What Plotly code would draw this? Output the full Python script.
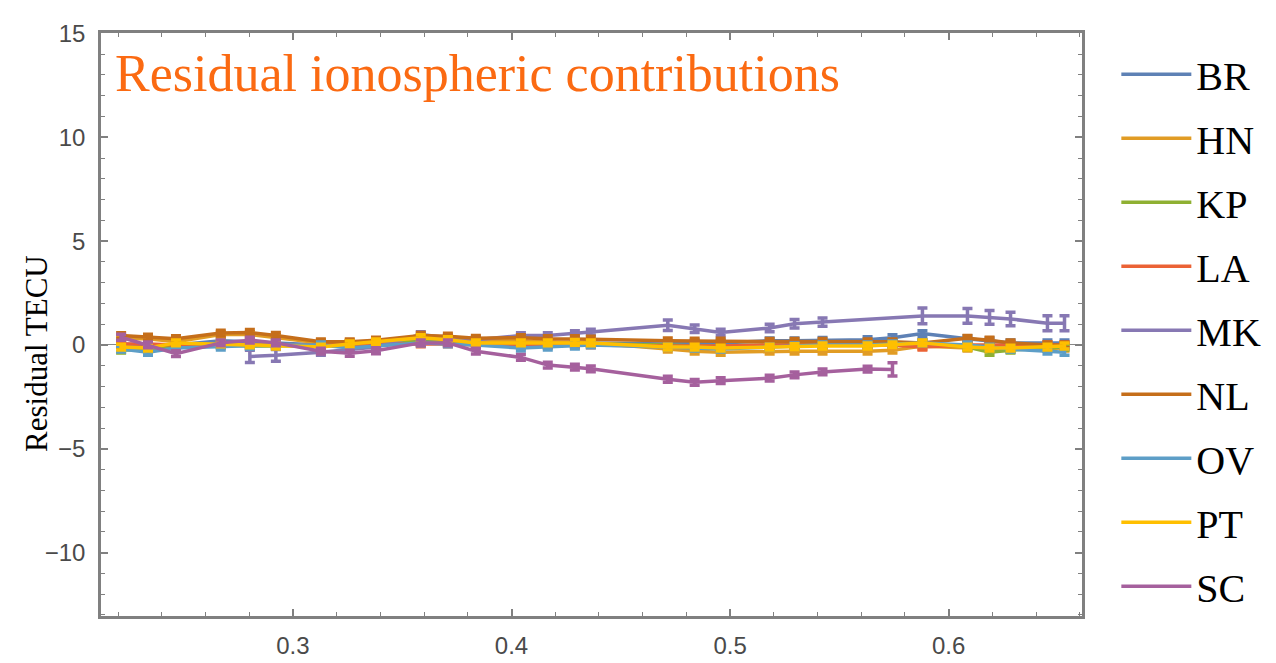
import plotly.graph_objects as go

# ---- data ----
x_vals = [0.2214, 0.2337, 0.2465, 0.2670, 0.2803, 0.2922, 0.3128, 0.3260, 0.3380, 0.3585,
          0.3709, 0.3837, 0.4043, 0.4166, 0.4290, 0.4363, 0.4715, 0.4838, 0.4957, 0.5181,
          0.5295, 0.5423, 0.5629, 0.5743, 0.5880, 0.6086, 0.6187, 0.6283, 0.6452, 0.6530]

stations = ["BR", "HN", "KP", "LA", "MK", "NL", "OV", "PT", "SC"]

BR = [0.05, 0.0, 0.0, 0.2, 0.15, 0.1, 0.0, 0.05, 0.1, 0.2, 0.15, 0.1, 0.05, 0.05, 0.1, 0.1,
      0.05, 0.1, 0.1, 0.2, 0.2, 0.22, 0.25, 0.35, 0.55, 0.3, 0.2, 0.1, 0.1, 0.1]
HN = [0.3, 0.3, 0.15, 0.5, 0.5, 0.35, 0.1, 0.1, 0.15, 0.35, 0.3, 0.2, 0.2, 0.15, 0.1, 0.1,
      -0.2, -0.3, -0.35, -0.3, -0.3, -0.3, -0.3, -0.25, -0.05, -0.15, -0.2, -0.2, -0.15, -0.15]
KP = [-0.25, -0.2, -0.1, 0.0, -0.05, -0.05, 0.0, 0.05, 0.1, 0.15, 0.1, 0.05, 0.0, 0.0, 0.05, 0.05,
      0.0, -0.05, -0.05, 0.0, 0.05, 0.05, 0.05, 0.1, 0.1, -0.1, -0.35, -0.25, -0.15, -0.1]
LA = [0.05, 0.05, 0.0, 0.0, 0.0, 0.0, 0.0, 0.0, 0.05, 0.05, 0.05, 0.0, 0.0, 0.0, 0.0, 0.0,
      -0.05, -0.05, -0.05, 0.0, 0.0, 0.0, 0.0, 0.0, -0.1, 0.0, 0.0, 0.0, 0.0, 0.0]
MK = [None, None, None, None, -0.55, -0.5, -0.35, -0.2, -0.1, 0.5, 0.35, 0.25, 0.45, 0.45, 0.55, 0.62,
      0.95, 0.78, 0.6, 0.82, 1.02, 1.1, None, None, 1.4, 1.4, 1.33, 1.25, 1.05, 1.05]
NL = [0.45, 0.37, 0.3, 0.57, 0.6, 0.46, 0.15, 0.15, 0.23, 0.46, 0.42, 0.32, 0.35, 0.3, 0.3, 0.28,
      0.2, 0.18, 0.18, 0.17, 0.17, 0.17, 0.15, 0.15, 0.1, 0.32, 0.23, 0.1, 0.0, 0.0]
OV = [-0.2, -0.35, -0.15, -0.1, -0.05, 0.0, 0.0, -0.15, -0.05, 0.1, 0.05, 0.0, -0.15, -0.1, -0.05, 0.0,
      -0.1, -0.15, -0.2, -0.1, -0.05, 0.0, 0.0, 0.05, 0.1, 0.0, -0.1, -0.2, -0.3, -0.35]
PT = [-0.1, -0.15, 0.1, 0.05, 0.0, -0.05, -0.1, 0.05, 0.15, 0.35, 0.25, 0.1, 0.1, 0.1, 0.12, 0.1,
      -0.1, -0.1, -0.15, -0.1, -0.08, -0.05, -0.05, 0.0, 0.1, -0.1, -0.15, -0.15, -0.1, -0.05]
SC = [0.37, 0.0, -0.42, 0.1, 0.23, 0.1, -0.3, -0.4, -0.28, 0.1, 0.1, -0.3, -0.6, -0.97, -1.07, -1.15,
      -1.65, -1.8, -1.72, -1.6, -1.44, -1.3, -1.16, -1.18, None, None, None, None, None, None]

err_small = [0.14] * len(x_vals)
MK_err = [0.14] * 4 + [0.3, 0.28] + [0.14] * 10 + [0.25, 0.18, 0.16, 0.18, 0.2, 0.2, 0.2, 0.2,
                                                   0.38, 0.35, 0.33, 0.33, 0.36, 0.36]
SC_err = [0.14] * 23 + [0.32] + [0.0] * 6

series = {"BR": BR, "HN": HN, "KP": KP, "LA": LA, "MK": MK, "NL": NL, "OV": OV, "PT": PT, "SC": SC}
errors = {"MK": MK_err, "SC": SC_err}
colors = {"BR": "#5e81b5", "HN": "#e19c24", "KP": "#8fb032", "LA": "#eb6235", "MK": "#8778b3",
          "NL": "#c56e1a", "OV": "#5d9ec7", "PT": "#ffbf00", "SC": "#a5609d"}

fig = go.Figure()
for name in stations:
    c = colors[name]
    fig.add_trace(go.Scatter(
        x=x_vals, y=series[name], mode="lines", name=name, legendgroup=name,
        line=dict(color=c, width=3.5),
        connectgaps=True,
        error_y=dict(type="data", array=errors.get(name, err_small), visible=True,
                     color=c, thickness=3.5, width=5),
    ))

axis_col = "#808080"
tick_font = dict(family="Liberation Sans, Arial, sans-serif", size=24, color="#4a4a4a")

fig.update_xaxes(range=[0.2122, 0.661], showgrid=False, zeroline=False,
                 showline=True, linecolor=axis_col, linewidth=2.5, mirror="allticks",
                 ticks="inside", ticklen=7, tickwidth=1.5, tickcolor=axis_col,
                 tickvals=[0.3, 0.4, 0.5, 0.6], ticktext=["0.3", "0.4", "0.5", "0.6"],
                 tickfont=tick_font, ticklabelstandoff=6,
                 minor=dict(dtick=0.02, tick0=0.2, ticks="inside", ticklen=4, tickwidth=1,
                            tickcolor=axis_col, showgrid=False))
fig.update_yaxes(range=[-13.05, 15.02], showgrid=False, zeroline=True, zerolinecolor="#888888",
                 zerolinewidth=1.2,
                 showline=True, linecolor=axis_col, linewidth=2.5, mirror="allticks",
                 ticks="inside", ticklen=7, tickwidth=1.5, tickcolor=axis_col,
                 tickvals=[-10, -5, 0, 5, 10, 15], tickfont=tick_font, ticklabelstandoff=8,
                 minor=dict(dtick=1, ticks="inside", ticklen=4, tickwidth=1,
                            tickcolor=axis_col, showgrid=False))

# y-axis label (placed as rotated text, centred near the zero line like the original)
fig.add_annotation(text="Residual TECU", xref="paper", yref="paper",
                   x=-0.066, y=0.45, xanchor="center", yanchor="middle", showarrow=False,
                   textangle=-90,
                   font=dict(family="Liberation Serif, serif", size=31, color="#000000"))

fig.add_annotation(text="Residual ionospheric contributions", xref="paper", yref="paper",
                   x=0.012, y=0.93, xanchor="left", yanchor="middle", showarrow=False,
                   font=dict(family="Liberation Serif, serif", size=52, color="#fb6a12"))

fig.update_layout(
    width=1276, height=663,
    margin=dict(l=93, r=202, t=23, b=38),
    plot_bgcolor="white", paper_bgcolor="white",
    showlegend=True,
    legend=dict(x=1.035, xanchor="left", y=0.985, yanchor="top", maxheight=660,
                font=dict(family="Liberation Serif, serif", size=40, color="#000000"),
                tracegroupgap=9, itemwidth=70, bgcolor="rgba(0,0,0,0)"),
)

fig.write_html("out.html")
